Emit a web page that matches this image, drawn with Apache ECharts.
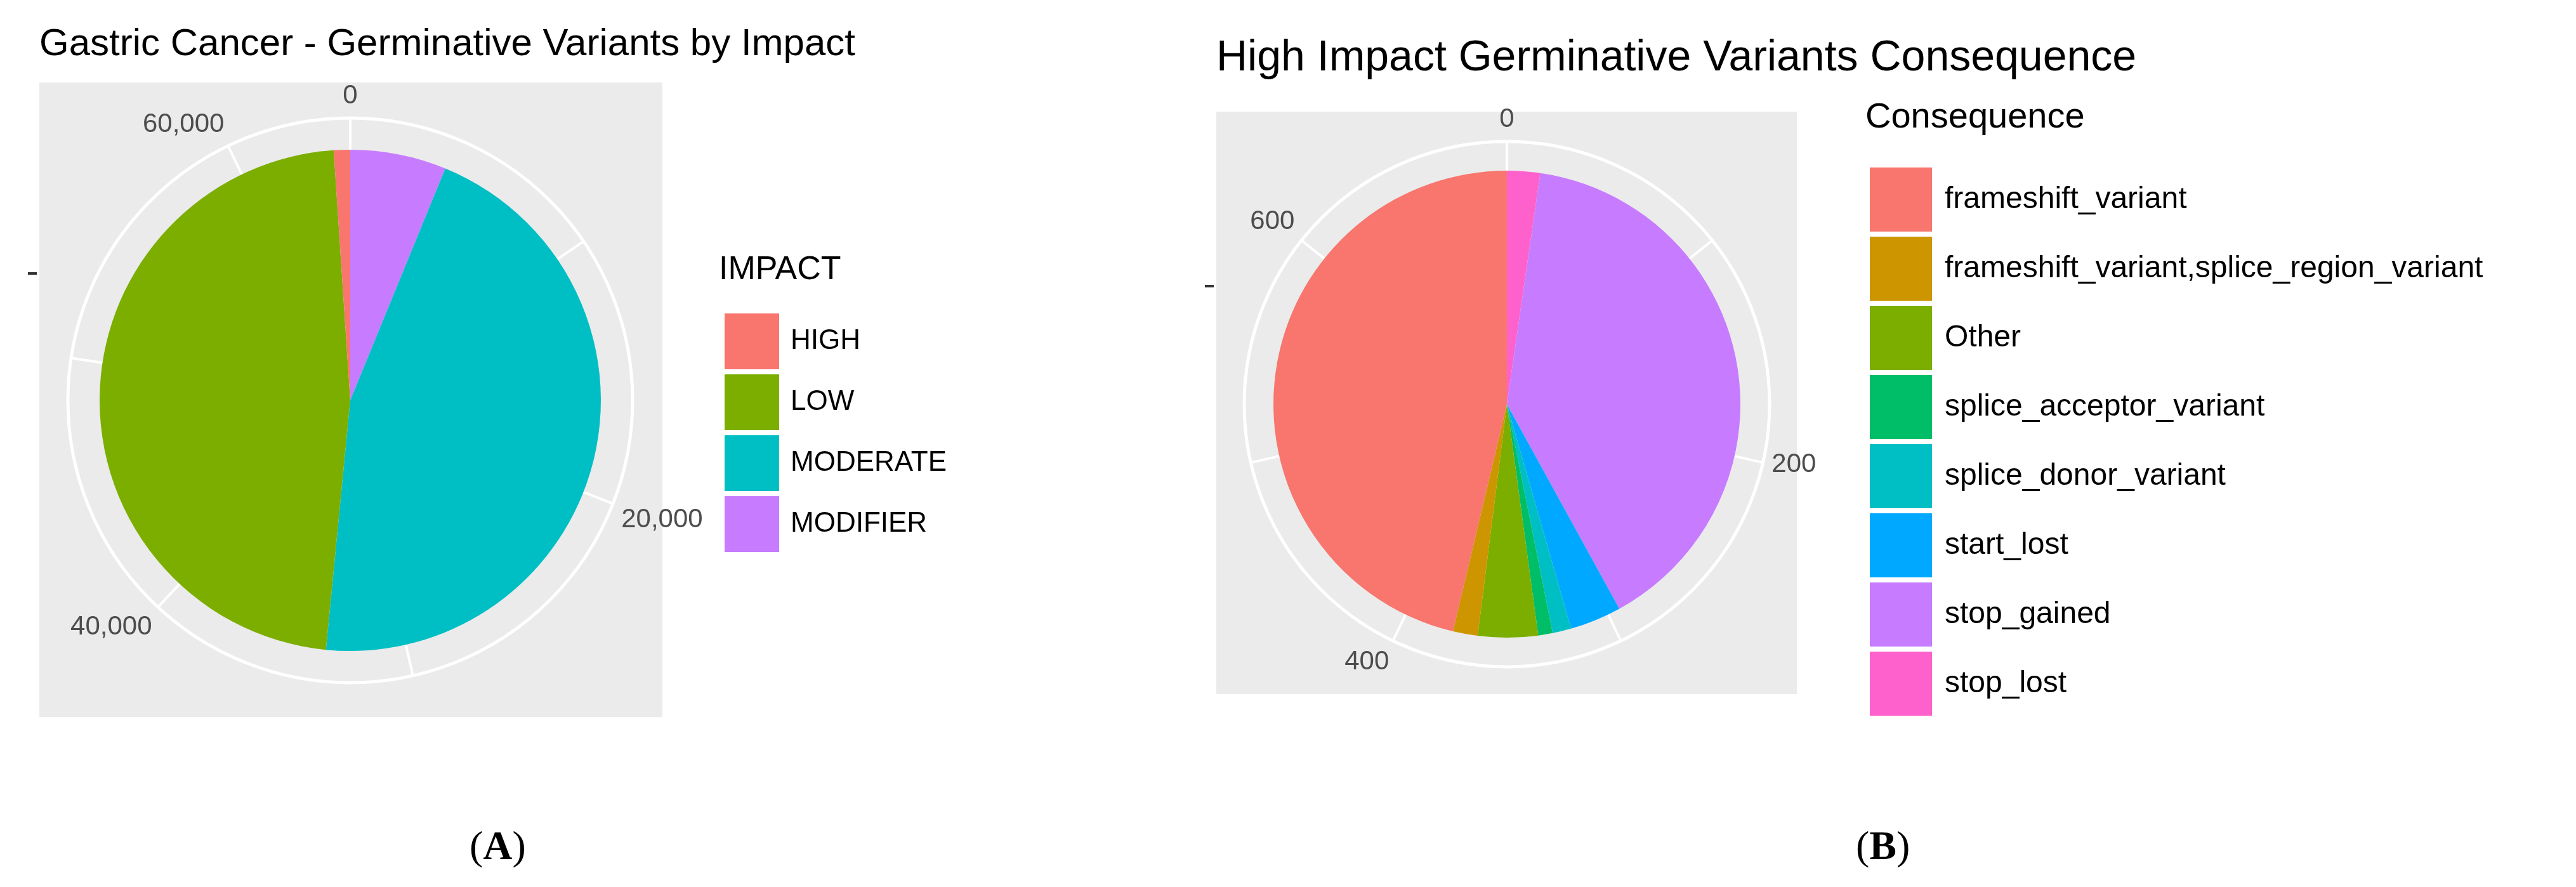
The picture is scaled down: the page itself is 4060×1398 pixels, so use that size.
<!DOCTYPE html>
<html>
<head>
<meta charset="utf-8">
<script src="https://cdn.jsdelivr.net/npm/echarts@6/dist/echarts.min.js"></script>
<style>
  html, body { margin: 0; padding: 0; background: #fff; }
  #chart { width: 4060px; height: 1398px; }
</style>
</head>
<body>
<div id="chart"></div>
<script>
// panel A: variants by impact (clockwise from 12 o'clock)
const impactNames = ['MODIFIER', 'MODERATE', 'LOW', 'HIGH'];
const impactValues = [4000, 29300, 30620, 680];
const impactColors = ['#C77CFF', '#00BFC4', '#7CAE00', '#F8766D'];
const impactLegend = ['HIGH', 'LOW', 'MODERATE', 'MODIFIER'];

// panel B: high impact consequences (clockwise from 12 o'clock)
const consNames = ['stop_lost', 'stop_gained', 'start_lost', 'splice_donor_variant',
    'splice_acceptor_variant', 'Other', 'frameshift_variant,splice_region_variant', 'frameshift_variant'];
const consValues = [16, 278, 25, 9, 7, 29, 12, 324];
const consColors = ['#FF61CC', '#C77CFF', '#00A9FF', '#00BFC4', '#00BE67', '#7CAE00', '#CD9600', '#F8766D'];
const consLegend = ['frameshift_variant', 'frameshift_variant,splice_region_variant', 'Other',
    'splice_acceptor_variant', 'splice_donor_variant', 'start_lost', 'stop_gained', 'stop_lost'];

const sum = arr => arr.reduce((a, b) => a + b, 0);
const totalA = sum(impactValues);
const totalB = sum(consValues);

const labelGrey = '#4D4D4D';
const font = 'Liberation Sans, Arial, sans-serif';

function angleAxis(idx, total, step, labelStep, fmt) {
    return {
        polarIndex: idx, type: 'value', min: 0, max: total, interval: step,
        startAngle: 90, clockwise: true,
        axisLine: { show: true, lineStyle: { color: '#fff', width: 5 } },
        axisTick: { show: false },
        splitLine: { show: true, lineStyle: { color: '#fff', width: 4 } },
        axisLabel: {
            color: labelGrey, fontSize: 42, fontFamily: font, margin: 14,
            formatter: v => (v % labelStep === 0 && v < total) ? fmt(v) : ''
        }
    };
}

function pie(name, center, radius, names, values, colors) {
    return {
        name: name, type: 'pie', center: center, radius: [0, radius],
        startAngle: 90, clockwise: true, z: 5, silent: true,
        label: { show: false }, labelLine: { show: false },
        itemStyle: { borderWidth: 0 },
        data: names.map((n, i) => ({ name: n, value: values[i], itemStyle: { color: colors[i] } }))
    };
}

const chart = echarts.init(document.getElementById('chart'));
chart.setOption({
    animation: false,
    backgroundColor: '#fff',
    graphic: [
        { type: 'rect', shape: { x: 62, y: 130, width: 982, height: 1000 }, style: { fill: '#EBEBEB' }, z: -10 },
        { type: 'rect', shape: { x: 1917, y: 176, width: 915, height: 918 }, style: { fill: '#EBEBEB' }, z: -10 },
        { type: 'line', shape: { x1: 44, y1: 431, x2: 58, y2: 431 }, style: { stroke: '#333', lineWidth: 4 } },
        { type: 'line', shape: { x1: 1899, y1: 451, x2: 1913, y2: 451 }, style: { stroke: '#333', lineWidth: 4 } },
        { type: 'text', left: 62, top: 40, style: { text: 'Gastric Cancer - Germinative Variants by Impact', font: '60px ' + font, fill: '#000' } },
        { type: 'text', left: 1917, top: 58, style: { text: 'High Impact Germinative Variants Consequence', font: '68px ' + font, fill: '#000' } },
        { type: 'text', left: 1133, top: 400, style: { text: 'IMPACT', font: '52px ' + font, fill: '#000' } },
        { type: 'text', left: 2940, top: 158, style: { text: 'Consequence', font: '56px ' + font, fill: '#000' } },
        { type: 'text', left: 740, top: 1305, style: { text: '({b|A})', font: '64px Liberation Serif, serif', fill: '#000',
            rich: { b: { fontWeight: 'bold', fontSize: 64, fontFamily: 'Liberation Serif, serif' } } } },
        { type: 'text', left: 2925, top: 1305, style: { text: '({b|B})', font: '64px Liberation Serif, serif', fill: '#000',
            rich: { b: { fontWeight: 'bold', fontSize: 64, fontFamily: 'Liberation Serif, serif' } } } }
    ],
    polar: [
        { center: [552, 631], radius: 445 },
        { center: [2375, 637], radius: 414 }
    ],
    angleAxis: [
        angleAxis(0, totalA, 10000, 20000, v => v.toLocaleString('en-US')),
        angleAxis(1, totalB, 100, 200, v => String(v))
    ],
    radiusAxis: [
        { polarIndex: 0, show: false, min: 0, max: 1 },
        { polarIndex: 1, show: false, min: 0, max: 1 }
    ],
    legend: [
        {
            data: impactLegend, orient: 'vertical', left: 1135, top: 487,
            itemWidth: 88, itemHeight: 90, itemGap: 4, icon: 'rect', selectedMode: false,
            itemStyle: { borderColor: '#fff', borderWidth: 2 },
            textStyle: { fontSize: 44, fontFamily: font, color: '#000', padding: [0, 0, 0, 12] }
        },
        {
            data: consLegend, orient: 'vertical', left: 2940, top: 257,
            itemWidth: 100, itemHeight: 103, itemGap: 4, icon: 'rect', selectedMode: false,
            itemStyle: { borderColor: '#fff', borderWidth: 2 },
            textStyle: { fontSize: 48, fontFamily: font, color: '#000', padding: [0, 0, 0, 14] }
        }
    ],
    series: [
        pie('impact', [552, 631], 395, impactNames, impactValues, impactColors),
        pie('consequence', [2375, 637], 368, consNames, consValues, consColors)
    ]
});
</script>
</body>
</html>
